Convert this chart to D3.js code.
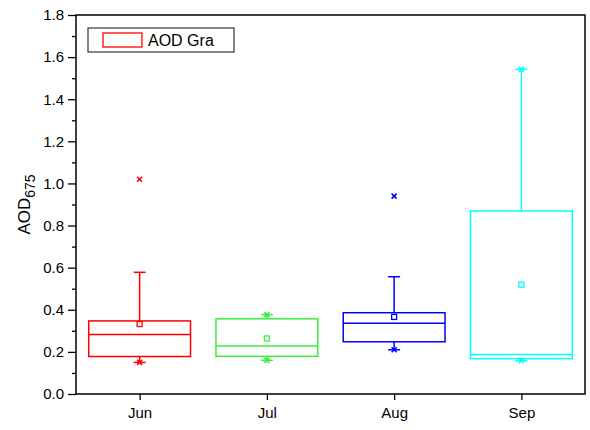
<!DOCTYPE html>
<html>
<head>
<meta charset="utf-8">
<script src="https://cdn.jsdelivr.net/npm/d3@7"></script>
<style>
  body { margin: 0; background: #fff; }
  svg { font-family: Arial, "Liberation Sans", sans-serif; }
</style>
</head>
<body>
<svg width="590" height="430"></svg>
<script>
var months = ["Jun", "Jul", "Aug", "Sep"];
var q1 = [0.178, 0.179, 0.248, 0.168];
var median = [0.282, 0.228, 0.336, 0.188];
var q3 = [0.347, 0.357, 0.386, 0.869];
var mean = [0.332, 0.264, 0.366, 0.519];
var whiskerLow = [0.15, 0.16, 0.21, 0.158];
var whiskerHigh = [0.578, 0.377, 0.557, 1.542];
var markLow = [0.15, 0.16, 0.21, 0.158];
var markHigh = [1.02, 0.377, 0.94, 1.542];
var yTicks = [0, 0.2, 0.4, 0.6, 0.8, 1.0, 1.2, 1.4, 1.6, 1.8];
var colors = ["#ff0000", "#3cee3c", "#0000ff", "#00ffff"];

var svg = d3.select("svg"),
    margin = {top: 15, right: 5, bottom: 36, left: 76},
    width = +svg.attr("width") - margin.left - margin.right,
    height = +svg.attr("height") - margin.top - margin.bottom,
    g = svg.append("g").attr("transform", "translate(" + margin.left + "," + margin.top + ")");

var x = d3.scalePoint()
    .domain(months)
    .range([0, width])
    .padding(0.5);

var y = d3.scaleLinear()
    .domain([0, 1.8])
    .range([height, 0]);

var boxW = x.step() * 0.8,
    capW = 12;

var data = months.map(function(m, i) {
  return {month: m, q1: q1[i], med: median[i], q3: q3[i], mean: mean[i],
          lo: whiskerLow[i], hi: whiskerHigh[i], mlo: markLow[i], mhi: markHigh[i], color: colors[i]};
});

// axes
var yAxis = g.append("g")
    .call(d3.axisLeft(y).tickValues(yTicks).tickSize(8).tickPadding(4)
      .tickFormat(d3.format(".1f")));
yAxis.select(".domain").remove();
yAxis.selectAll("line").attr("stroke-width", 1.3);
yAxis.selectAll("text").attr("font-size", 15).attr("font-family", "Arial, 'Liberation Sans', sans-serif");

var minor = g.append("g")
    .call(d3.axisLeft(y).tickValues(d3.range(0.1, 1.8, 0.2)).tickSize(4).tickFormat(""));
minor.select(".domain").remove();
minor.selectAll("line").attr("stroke-width", 1.3);

var xAxis = g.append("g")
    .attr("transform", "translate(0," + height + ")")
    .call(d3.axisBottom(x).tickSize(6).tickPadding(7));
xAxis.select(".domain").remove();
xAxis.selectAll("line").attr("stroke-width", 1.3);
xAxis.selectAll("text").attr("font-size", 15).attr("font-family", "Arial, 'Liberation Sans', sans-serif");

// frame
g.append("rect")
    .attr("width", width)
    .attr("height", height)
    .attr("fill", "none")
    .attr("stroke", "#000")
    .attr("stroke-width", 1.5);

// boxes
var box = g.selectAll(".box")
  .data(data)
  .enter().append("g")
    .attr("class", "box")
    .attr("stroke", function(d) { return d.color; })
    .attr("fill", "none")
    .attr("stroke-width", 1.5);

box.append("line")
    .attr("x1", function(d) { return x(d.month); })
    .attr("x2", function(d) { return x(d.month); })
    .attr("y1", function(d) { return y(d.q3); })
    .attr("y2", function(d) { return y(d.hi); });

box.append("line")
    .attr("x1", function(d) { return x(d.month); })
    .attr("x2", function(d) { return x(d.month); })
    .attr("y1", function(d) { return y(d.q1); })
    .attr("y2", function(d) { return y(d.lo); });

box.append("line")
    .attr("x1", function(d) { return x(d.month) - capW / 2; })
    .attr("x2", function(d) { return x(d.month) + capW / 2; })
    .attr("y1", function(d) { return y(d.hi); })
    .attr("y2", function(d) { return y(d.hi); });

box.append("line")
    .attr("x1", function(d) { return x(d.month) - capW / 2; })
    .attr("x2", function(d) { return x(d.month) + capW / 2; })
    .attr("y1", function(d) { return y(d.lo); })
    .attr("y2", function(d) { return y(d.lo); });

box.append("rect")
    .attr("x", function(d) { return x(d.month) - boxW / 2; })
    .attr("y", function(d) { return y(d.q3); })
    .attr("width", boxW)
    .attr("height", function(d) { return y(d.q1) - y(d.q3); });

box.append("line")
    .attr("x1", function(d) { return x(d.month) - boxW / 2; })
    .attr("x2", function(d) { return x(d.month) + boxW / 2; })
    .attr("y1", function(d) { return y(d.med); })
    .attr("y2", function(d) { return y(d.med); });

// mean square
box.append("rect")
    .attr("x", function(d) { return x(d.month) - 2.5; })
    .attr("y", function(d) { return y(d.mean) - 2.5; })
    .attr("width", 5)
    .attr("height", 5)
    .attr("stroke-width", 1.3);

// x markers
function cross(sel, key) {
  sel.append("path")
      .attr("stroke-width", 1.6)
      .attr("d", function(d) {
        var cx = x(d.month), cy = y(d[key]), s = 2.5;
        return "M" + (cx - s) + "," + (cy - s) + "L" + (cx + s) + "," + (cy + s) +
               "M" + (cx - s) + "," + (cy + s) + "L" + (cx + s) + "," + (cy - s);
      });
}
cross(box, "mhi");
cross(box, "mlo");

// legend
var legend = g.append("g").attr("transform", "translate(12,13)");
legend.append("rect")
    .attr("width", 146)
    .attr("height", 24)
    .attr("fill", "#fff")
    .attr("stroke", "#333")
    .attr("stroke-width", 1.2);
legend.append("rect")
    .attr("x", 15)
    .attr("y", 5)
    .attr("width", 39)
    .attr("height", 14)
    .attr("fill", "none")
    .attr("stroke", colors[0])
    .attr("stroke-width", 1.3);
legend.append("text")
    .attr("x", 60)
    .attr("y", 18)
    .attr("font-size", 16)
    .text("AOD Gra");

// y label
var yl = svg.append("text")
    .attr("transform", "translate(30," + (margin.top + height / 2) + ") rotate(-90)")
    .attr("text-anchor", "middle")
    .attr("font-size", 17);
yl.append("tspan").text("AOD");
yl.append("tspan").attr("dy", 5).attr("font-size", 14).text("675");
</script>
</body>
</html>
